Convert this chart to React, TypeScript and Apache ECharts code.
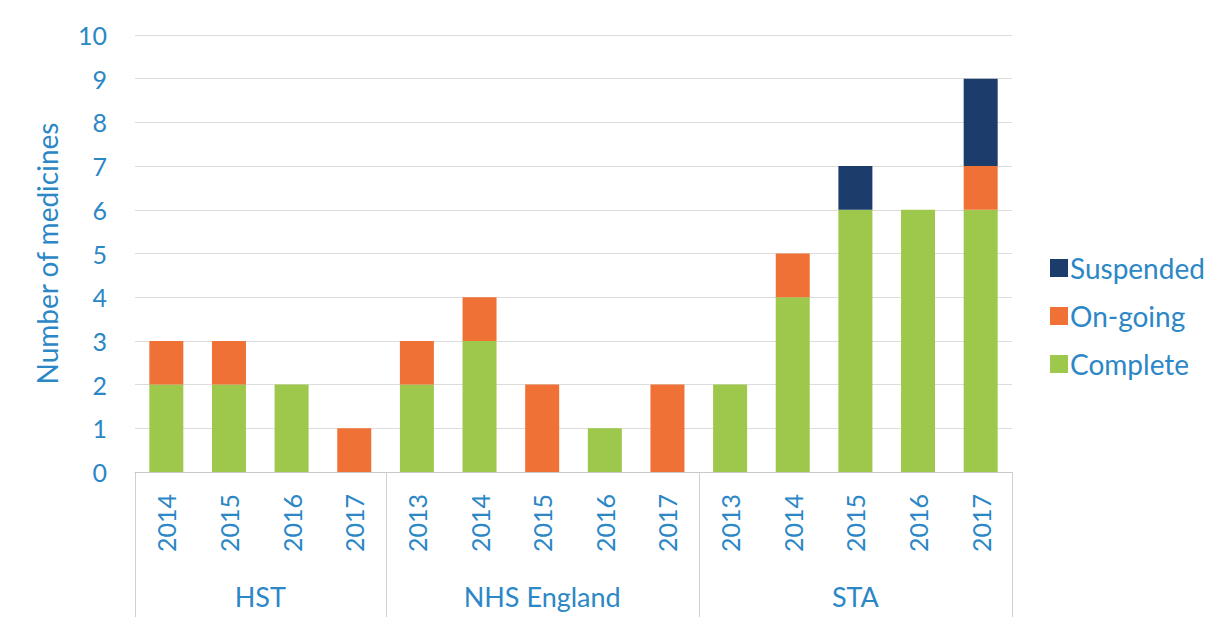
import React, { useEffect, useRef } from "react";
import * as echarts from "echarts";

const groups = ["HST", "NHS England", "STA"];
const groupYears = [
  ["2014", "2015", "2016", "2017"],
  ["2013", "2014", "2015", "2016", "2017"],
  ["2013", "2014", "2015", "2016", "2017"],
];
const complete = [2, 2, 2, 0, 2, 3, 0, 1, 0, 2, 4, 6, 6, 6];
const ongoing = [1, 1, 0, 1, 1, 1, 2, 0, 2, 0, 1, 0, 0, 1];
const suspended = [0, 0, 0, 0, 0, 0, 0, 0, 0, 0, 0, 1, 0, 2];
const yTicks = [0, 1, 2, 3, 4, 5, 6, 7, 8, 9, 10];

const categories: string[] = [];
groups.forEach((g, gi) => groupYears[gi].forEach((y) => categories.push(g + "|" + y)));

const BLUE = "#2b87c6";
const FONT = "Lato";

export default function App() {
  const ref = useRef<HTMLDivElement>(null);
  useEffect(() => {
    document.body.style.margin = "0";
    const chart = echarts.init(ref.current!, undefined, { renderer: "svg" });
    chart.setOption({
      animation: false,
      textStyle: { fontFamily: FONT },
      grid: { left: 135, right: 206, top: 35, bottom: 147 },
      legend: {
        orient: "vertical",
        left: 1045,
        top: 249,
        itemWidth: 18,
        itemHeight: 18,
        itemGap: 20,
        icon: "rect",
        data: ["Suspended", "On-going", "Complete"],
        textStyle: { color: BLUE, fontSize: 28, fontFamily: FONT, padding: [0, 0, 0, -3] },
      },
      xAxis: {
        type: "category",
        data: categories,
        axisLine: { lineStyle: { color: "#c8c8c8", width: 1 } },
        axisTick: { show: false },
        axisLabel: {
          rotate: 90,
          margin: 22,
          color: BLUE,
          fontSize: 25,
          fontFamily: FONT,
          interval: 0,
          formatter: (v: string) => v.split("|")[1],
        },
      },
      yAxis: {
        type: "value",
        min: 0,
        max: 10,
        interval: 1,
        name: "Number of medicines",
        nameLocation: "middle",
        nameGap: 74,
        nameTextStyle: { color: BLUE, fontSize: 28, fontFamily: FONT },
        axisLine: { show: false },
        axisTick: { show: false },
        axisLabel: {
          color: BLUE,
          fontSize: 25,
          fontFamily: FONT,
          margin: 28,
          formatter: (v: number) => (yTicks.includes(v) ? String(v) : ""),
        },
        splitLine: { lineStyle: { color: "#dcdcdc", width: 1 } },
      },
      series: [
        { name: "Complete", type: "bar", stack: "s", data: complete, barWidth: 34, itemStyle: { color: "#9dc84b" } },
        { name: "On-going", type: "bar", stack: "s", data: ongoing, barWidth: 34, itemStyle: { color: "#f07135" } },
        { name: "Suspended", type: "bar", stack: "s", data: suspended, barWidth: 34, itemStyle: { color: "#1c3c6c" } },
      ],
    });

    const x0 = chart.convertToPixel({ xAxisIndex: 0 }, 0) as number;
    const x1 = chart.convertToPixel({ xAxisIndex: 0 }, 1) as number;
    const bw = x1 - x0;
    const yBase = chart.convertToPixel({ yAxisIndex: 0 }, 0) as number;
    const yBottom = 617;
    const elements: any[] = [];
    let idx = 0;
    const bounds: number[] = [0];
    groupYears.forEach((ys) => {
      idx += ys.length;
      bounds.push(idx);
    });
    bounds.forEach((b) => {
      const x = Math.round(x0 - bw / 2 + b * bw) + 0.5;
      elements.push({
        type: "line",
        shape: { x1: x, y1: yBase, x2: x, y2: yBottom },
        style: { stroke: "#d0d0d0", lineWidth: 1 },
      });
    });
    groups.forEach((g, gi) => {
      const a = x0 - bw / 2 + bounds[gi] * bw;
      const c = x0 - bw / 2 + bounds[gi + 1] * bw;
      elements.push({
        type: "text",
        x: (a + c) / 2,
        y: 596,
        style: {
          text: g,
          fill: BLUE,
          fontSize: 27,
          fontFamily: FONT,
          align: "center",
          verticalAlign: "middle",
        },
      });
    });
    chart.setOption({ graphic: elements });

    return () => chart.dispose();
  }, []);
  return <div ref={ref} style={{ width: 1218, height: 619 }} />;
}
